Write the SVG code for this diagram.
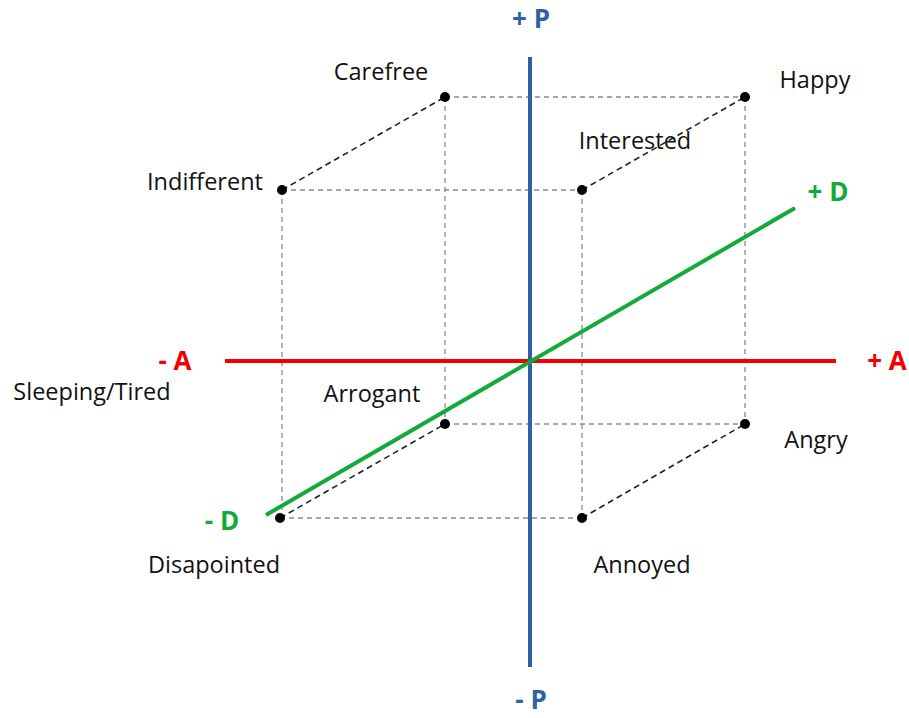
<svg xmlns="http://www.w3.org/2000/svg" width="909" height="718" viewBox="0 0 909 718">
<style>
.lbl{font-family:"Open Sans","Noto Sans","DejaVu Sans",sans-serif;font-size:23.5px;fill:#111;text-anchor:middle}
.ax{font-family:"Open Sans","Noto Sans","DejaVu Sans",sans-serif;font-size:26px;font-weight:bold;text-anchor:middle}
.g{stroke:#8a8a8a;stroke-width:1.3;stroke-dasharray:5 4;fill:none}
.k{stroke:#222;stroke-width:1.6;stroke-dasharray:6 4;fill:none}
.dot{fill:#000}
</style>
<rect width="909" height="718" fill="#fff"/>
<g id="connectors">
<line class="g" x1="445" y1="97" x2="745" y2="97"/>
<line class="g" x1="282" y1="190" x2="582" y2="190"/>
<line class="g" x1="445" y1="424" x2="745" y2="424"/>
<line class="g" x1="280" y1="518" x2="582" y2="518"/>
<line class="g" x1="282" y1="190" x2="282" y2="518"/>
<line class="g" x1="445" y1="97" x2="445" y2="424"/>
<line class="g" x1="582" y1="190" x2="582" y2="518"/>
<line class="g" x1="745" y1="97" x2="745" y2="424"/>
<line class="k" x1="282" y1="190" x2="445" y2="97"/>
<line class="k" x1="582" y1="190" x2="745" y2="97"/>
<line class="k" x1="280" y1="518" x2="445" y2="424"/>
<line class="k" x1="582" y1="518" x2="745" y2="424"/>
</g>
<g id="axes">
<line x1="225" y1="361" x2="836" y2="361" stroke="#f00000" stroke-width="4"/>
<line x1="530" y1="57" x2="530" y2="667" stroke="#2e62a6" stroke-width="4"/>
<line x1="266" y1="515" x2="795" y2="208" stroke="#13aa3a" stroke-width="4"/>
<text class="ax" x="531" y="28" fill="#2e62a6">+ P</text>
<text class="ax" x="531" y="709" fill="#2e62a6">- P</text>
<text class="ax" x="175" y="370" fill="#f00000">- A</text>
<text class="ax" x="887" y="370" fill="#f00000">+ A</text>
<text class="ax" x="828" y="201" fill="#13aa3a">+ D</text>
<text class="ax" x="222" y="530" fill="#13aa3a">- D</text>
</g>
<g id="carefree"><circle class="dot" cx="445" cy="97" r="5"/><text class="lbl" x="381" y="80">Carefree</text></g>
<g id="happy"><circle class="dot" cx="745" cy="97" r="5"/><text class="lbl" x="815" y="88">Happy</text></g>
<g id="indifferent"><circle class="dot" cx="282" cy="190" r="5"/><text class="lbl" x="205" y="190">Indifferent</text></g>
<g id="interested"><circle class="dot" cx="582" cy="190" r="5"/><text class="lbl" x="635" y="149">Interested</text></g>
<g id="sleeping"><text class="lbl" x="92" y="400">Sleeping/Tired</text></g>
<g id="arrogant"><circle class="dot" cx="445" cy="424" r="5"/><text class="lbl" x="372" y="402">Arrogant</text></g>
<g id="angry"><circle class="dot" cx="745" cy="424" r="5"/><text class="lbl" x="816" y="448">Angry</text></g>
<g id="disapointed"><circle class="dot" cx="280" cy="518" r="5"/><text class="lbl" x="214" y="573">Disapointed</text></g>
<g id="annoyed"><circle class="dot" cx="582" cy="518" r="5"/><text class="lbl" x="642" y="573">Annoyed</text></g>
</svg>
